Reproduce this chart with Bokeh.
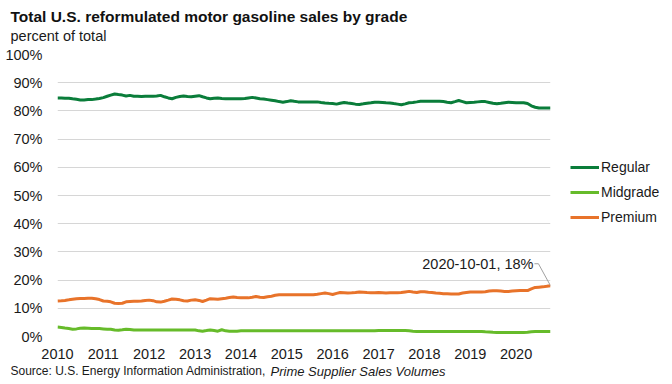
import pandas as pd
from bokeh.plotting import figure
from bokeh.models import (Range1d, FixedTicker, DatetimeTickFormatter, PrintfTickFormatter,
                          Legend, LegendItem, Label, Title)
from bokeh.embed import file_html
from bokeh.resources import INLINE

# ---------------- data (percent of total, monthly Jan 2010 - Oct 2020) ----------------
start_month = "2010-01-01"
n_months = 130

regular = [
    84.6, 84.6, 84.5, 84.5, 84.3, 84.1, 83.9, 83.9, 84.0, 84.0, 84.2, 84.4,   # 2010
    84.7, 85.2, 85.6, 86.0, 85.8, 85.6, 85.3, 85.5, 85.2, 85.2, 85.1, 85.2,   # 2011
    85.2, 85.2, 85.3, 85.5, 85.0, 84.6, 84.3, 84.8, 85.1, 85.3, 85.1, 85.0,   # 2012
    85.2, 85.4, 85.0, 84.6, 84.3, 84.5, 84.6, 84.4, 84.3, 84.3, 84.3, 84.3,   # 2013
    84.3, 84.4, 84.6, 84.8, 84.6, 84.3, 84.2, 84.0, 83.8, 83.6, 83.3, 83.1,   # 2014
    83.3, 83.6, 83.4, 83.2, 83.2, 83.2, 83.2, 83.2, 83.2, 83.0, 82.8, 82.7,   # 2015
    82.6, 82.4, 82.7, 83.0, 82.8, 82.6, 82.4, 82.3, 82.5, 82.7, 82.9, 83.1,   # 2016
    83.1, 83.0, 82.9, 82.8, 82.6, 82.4, 82.2, 82.5, 82.9, 83.0, 83.2, 83.4,   # 2017
    83.4, 83.4, 83.4, 83.4, 83.4, 83.3, 83.1, 82.9, 83.3, 83.7, 83.3, 82.9,   # 2018
    83.0, 83.1, 83.2, 83.3, 83.3, 83.0, 82.7, 82.5, 82.7, 82.9, 83.1, 83.0,   # 2019
    82.9, 82.9, 82.9, 82.6, 81.8, 81.3, 81.0, 81.0, 81.0, 81.0,               # 2020
]

midgrade = [
    3.4, 3.2, 3.0, 2.8, 2.6, 2.7, 2.9, 3.0, 2.9, 2.8, 2.8, 2.8,   # 2010
    2.7, 2.6, 2.6, 2.3, 2.2, 2.4, 2.6, 2.5, 2.3, 2.3, 2.3, 2.3,   # 2011
    2.3, 2.3, 2.3, 2.3, 2.3, 2.3, 2.3, 2.3, 2.3, 2.3, 2.3, 2.3,   # 2012
    2.3, 2.0, 1.9, 2.1, 2.3, 2.1, 1.9, 2.4, 2.0, 1.9, 1.9, 1.9,   # 2013
    2.0, 2.0, 2.0, 2.0, 2.0, 2.0, 2.0, 2.0, 2.0, 2.0, 2.0, 2.0,   # 2014
    2.0, 2.0, 2.0, 2.0, 2.0, 2.0, 2.0, 2.0, 2.0, 2.0, 2.0, 2.0,   # 2015
    2.0, 2.0, 2.0, 2.0, 2.0, 2.0, 2.0, 2.0, 2.0, 2.0, 2.0, 2.0,   # 2016
    2.1, 2.1, 2.1, 2.1, 2.1, 2.1, 2.1, 2.1, 2.0, 1.9, 1.8, 1.8,   # 2017
    1.8, 1.8, 1.8, 1.8, 1.8, 1.8, 1.8, 1.8, 1.8, 1.8, 1.8, 1.8,   # 2018
    1.8, 1.8, 1.8, 1.8, 1.7, 1.6, 1.5, 1.4, 1.4, 1.4, 1.4, 1.4,   # 2019
    1.4, 1.4, 1.4, 1.5, 1.7, 1.8, 1.8, 1.8, 1.8, 1.8,             # 2020
]

premium = [
    12.6, 12.7, 12.8, 13.0, 13.2, 13.4, 13.5, 13.5, 13.6, 13.6, 13.4, 13.1,   # 2010
    12.6, 12.5, 12.3, 11.8, 11.7, 11.8, 12.3, 12.4, 12.5, 12.5, 12.6, 12.8,   # 2011
    12.9, 12.7, 12.3, 12.2, 12.5, 12.9, 13.3, 13.2, 13.0, 12.7, 12.6, 12.9,   # 2012
    13.0, 12.8, 12.4, 12.9, 13.4, 13.3, 13.2, 13.4, 13.6, 13.8, 14.0, 13.8,   # 2013
    13.7, 13.7, 13.7, 13.9, 14.2, 13.9, 13.8, 14.1, 14.3, 14.6, 14.8, 14.8,   # 2014
    14.8, 14.8, 14.8, 14.8, 14.8, 14.8, 14.8, 14.8, 15.0, 15.2, 15.4, 15.2,   # 2015
    14.9, 15.3, 15.6, 15.5, 15.4, 15.5, 15.6, 15.8, 15.7, 15.6, 15.5, 15.5,   # 2016
    15.6, 15.5, 15.4, 15.5, 15.5, 15.5, 15.6, 15.8, 16.0, 15.8, 15.6, 15.9,   # 2017
    15.9, 15.7, 15.6, 15.4, 15.3, 15.2, 15.2, 15.1, 15.1, 15.1, 15.4, 15.6,   # 2018
    15.8, 15.8, 15.8, 15.8, 15.9, 16.1, 16.2, 16.2, 16.1, 16.0, 16.0, 16.1,   # 2019
    16.2, 16.3, 16.3, 16.3, 16.9, 17.4, 17.5, 17.6, 17.8, 18.0,               # 2020
]

series_names = ["Regular", "Midgrade", "Premium"]
series_colors = ["#0a7d3a", "#66bb2a", "#e8732a"]
tick_years = list(range(2010, 2021))
y_ticks = list(range(0, 101, 10))

title_text = "Total U.S. reformulated motor gasoline sales by grade"
subtitle_text = "percent of total"
source_text = "Source: U.S. Energy Information Administration,"
source_italic = "Prime Supplier Sales Volumes"

# ---------------- figure ----------------
dates = pd.date_range(start_month, periods=n_months, freq="MS")
date_ms = [d.value // 10**6 for d in dates]
FONT = "Liberation Sans"
TXT = "#1a1a1a"

p = figure(frame_width=493, frame_height=282, x_axis_type="datetime",
           x_range=Range1d(start=date_ms[0], end=date_ms[-1]), y_range=Range1d(start=0, end=100),
           output_backend="svg", toolbar_location=None,
           min_border_left=57, min_border_right=122, min_border_top=54, min_border_bottom=48)
p.outline_line_color = None
p.background_fill_color = "white"
p.border_fill_color = "white"

p.xgrid.grid_line_color = None
p.ygrid.grid_line_color = "#d6d6d6"
p.ygrid.grid_line_width = 1

p.yaxis.ticker = FixedTicker(ticks=y_ticks)
p.yaxis.formatter = PrintfTickFormatter(format="%d%%")
p.xaxis.ticker = FixedTicker(ticks=[pd.Timestamp(f"{y}-01-01").value // 10**6 for y in tick_years])
p.xaxis.formatter = DatetimeTickFormatter(years="%Y", months="%Y", days="%Y")
for ax in (p.xaxis, p.yaxis):
    ax.axis_line_color = None
    ax.major_tick_line_color = None
    ax.minor_tick_line_color = None
    ax.major_label_text_font = FONT
    ax.major_label_text_font_size = "14.5px"
    ax.major_label_text_color = TXT
p.xaxis.major_label_standoff = 6
p.yaxis.major_label_standoff = 9

renderers = []
for name, vals, col in zip(series_names, [regular, midgrade, premium], series_colors):
    r = p.line(date_ms, vals, line_color=col, line_width=3)
    renderers.append((name, r))

legend = Legend(items=[LegendItem(label=n, renderers=[r]) for n, r in renderers],
                location=(20, 111), border_line_color=None, background_fill_alpha=0,
                label_text_font=FONT, label_text_font_size="14px", label_text_color=TXT,
                glyph_width=29, glyph_height=4, label_standoff=2, spacing=9,
                padding=0, margin=0)
p.add_layout(legend, "right")

# annotation for last premium point
last_x = date_ms[-1]
last_y = premium[-1]
px_x = 8 * 86400000     # ~1 px in x (ms)
px_y = 100 / 282        # ~1 px in y
p.line([last_x - 16 * px_x, last_x - 12 * px_x, last_x],
       [last_y + 22 * px_y, last_y + 22 * px_y, last_y],
       line_color="#a0a0a0", line_width=1)
p.add_layout(Label(x=last_x, y=last_y, x_offset=-17, y_offset=22,
                   text=f"{dates[-1]:%Y-%m-%d}, {last_y:.0f}%", text_align="right",
                   text_baseline="middle", text_font=FONT, text_font_size="14.5px",
                   text_color=TXT))

# titles (above) and source (below)
p.add_layout(Title(text=subtitle_text, align="left", offset=-47, standoff=22,
                   text_font=FONT, text_font_size="14.5px", text_font_style="normal",
                   text_color=TXT), "above")
p.add_layout(Title(text=title_text, align="left", offset=-47, standoff=-20,
                   text_font=FONT, text_font_size="15.5px", text_font_style="bold",
                   text_color="#111111"), "above")
p.add_layout(Title(text=source_text, align="left", offset=-47, standoff=1,
                   text_font=FONT, text_font_size="12px", text_font_style="normal",
                   text_color=TXT), "below")
p.add_layout(Title(text=source_italic, align="left", offset=213, standoff=-29,
                   vertical_align="top",
                   text_font=FONT, text_font_size="13px", text_font_style="italic",
                   text_color=TXT), "below")

open("out.html", "w").write(file_html(p, INLINE))
